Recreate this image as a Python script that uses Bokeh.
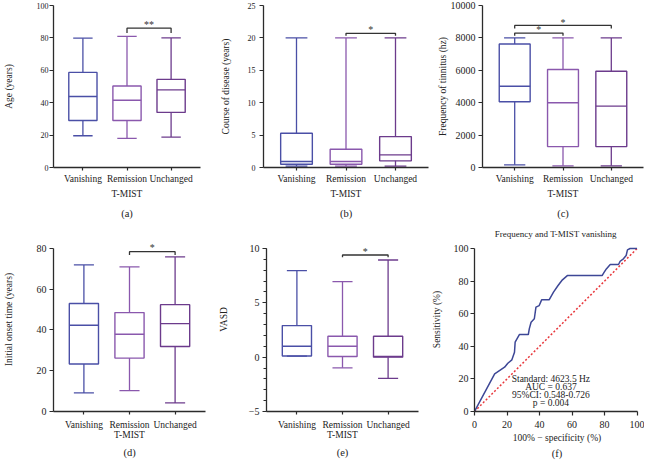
import numpy as np
from bokeh.plotting import figure
from bokeh.layouts import row, column
from bokeh.models import Range1d, FixedTicker, SingleIntervalTicker, Label, Title
from bokeh.embed import file_html
from bokeh.resources import INLINE

FONT = "Liberation Serif"
TXT = "#222222"
AX = "#2b2b2b"

categories = ["Vanishing", "Remission", "Unchanged"]
box_colors = ["#4a4fa6", "#8a58ad", "#6c3b8c"]

# (a) Age (years)
age_min = [19.6, 18.0, 18.8]
age_q1 = [29.0, 29.0, 34.0]
age_med = [43.8, 41.5, 47.9]
age_q3 = [58.7, 50.3, 54.4]
age_max = [79.8, 81.0, 80.0]

# (b) Course of disease (years)
course_min = [0.2, 0.2, 0.2]
course_q1 = [0.51, 0.51, 1.03]
course_med = [0.92, 0.92, 1.95]
course_q3 = [5.28, 2.82, 4.77]
course_max = [20.0, 20.0, 20.0]

# (c) Frequency of tinnitus (hz)
freq_min = [164, 102, 102]
freq_q1 = [4057, 1291, 1291]
freq_med = [5020, 3996, 3791]
freq_q3 = [7623, 6045, 5943]
freq_max = [8000, 8000, 8000]

# (d) Initial onset time (years)
onset_min = [9.1, 10.2, 4.2]
onset_q1 = [23.3, 26.2, 31.9]
onset_med = [42.3, 37.9, 43.1]
onset_q3 = [53.0, 48.5, 52.4]
onset_max = [71.9, 70.9, 75.8]

# (e) VASD
vasd_min = [0.1, -0.98, -1.95]
vasd_q1 = [0.1, 0.06, 0.0]
vasd_med = [1.0, 1.0, 0.06]
vasd_q3 = [2.9, 1.92, 1.92]
vasd_max = [7.96, 6.95, 8.93]

# significance brackets: (group i, group j, bracket height, drop, star height, stars)
a_brackets = [(1, 2, 86.0, 3.0, 88.2, "**")]
b_brackets = [(1, 2, 20.7, 0.35, 21.3, "*")]
c_brackets = [(0, 2, 8773, 200, 8980, "*"), (0, 1, 8300, 160, 8510, "*")]
d_brackets = [(1, 2, 78.4, 1.7, 80.3, "*")]
e_brackets = [(1, 2, 9.39, 0.2, 9.75, "*")]

# (f) ROC curve
roc_fpr = [0, 12.4, 18.5, 20.5, 23.0, 24.6, 25.0, 27.6, 33.1, 33.7, 34.8, 36.8, 37.8,
           39.8, 41.3, 45.9, 48.6, 51.4, 54.1, 57.1, 78.5, 79.5, 81.1, 83.5, 88.6,
           89.6, 91.6, 93.3, 94.1, 95.7, 100]
roc_tpr = [0, 23.1, 27.2, 29.6, 31.7, 36.4, 42.5, 47.2, 47.2, 50.7, 54.8, 56.9, 64.0,
           65.0, 68.5, 68.5, 73.2, 77.3, 80.8, 83.4, 83.4, 85.0, 87.5, 90.2, 90.2,
           92.2, 93.7, 95.7, 99.2, 100, 100]
roc_title = "Frequency and T-MIST vanishing"
roc_text = ["Standard: 4623.5 Hz", "AUC = 0.637", "95%CI: 0.548-0.726", "p = 0.004"]

ROW1_H = 224
ROW2_H = 239


def base_style(p, ytick_size, xtick_size):
    p.outline_line_color = None
    p.xgrid.visible = False
    p.ygrid.visible = False
    p.background_fill_color = "white"
    p.border_fill_color = "white"
    for ax in p.axis:
        ax.axis_line_color = AX
        ax.axis_line_width = 1.3
        ax.major_tick_line_color = AX
        ax.major_tick_line_width = 1.2
        ax.major_tick_in = 0
        ax.minor_tick_in = 0
        ax.major_label_text_font = FONT
        ax.major_label_text_color = TXT
        ax.axis_label_text_font = FONT
        ax.axis_label_text_color = TXT
        ax.axis_label_text_font_style = "normal"
        ax.axis_label_text_font_size = "9.5px"
    p.yaxis.major_label_text_font_size = ytick_size
    p.xaxis.major_label_text_font_size = xtick_size


def box_panel(w, h, borders, yr, ybounds, ytick, ylabel, vals, brackets, tag,
              ytick_size, y_tick_standoff, y_lab_standoff,
              x_tick_standoff, x_lab_standoff, tag_standoff,
              minor=0, overrides=None):
    mins, q1s, meds, q3s, maxs = vals
    pos = list(range(1, len(categories) + 1))
    p = figure(width=w, height=h, x_range=Range1d(1 / 3, len(categories) + 2 / 3),
               y_range=Range1d(*yr), output_backend="svg", toolbar_location=None,
               min_border_left=borders[0], min_border_right=borders[1],
               min_border_top=borders[2], min_border_bottom=borders[3])
    base_style(p, ytick_size, "9.5px")
    bw, cw = 0.64, 0.44
    pos_a = np.array(pos, dtype=float)
    p.vbar(x=pos, bottom=q1s, top=q3s, width=bw, fill_color=None,
           line_color=box_colors, line_width=1.4)
    p.segment(x0=pos_a - bw / 2, x1=pos_a + bw / 2, y0=meds, y1=meds,
              line_color=box_colors, line_width=1.4)
    p.segment(x0=pos, x1=pos, y0=q3s, y1=maxs, line_color=box_colors, line_width=1.3)
    p.segment(x0=pos, x1=pos, y0=mins, y1=q1s, line_color=box_colors, line_width=1.3)
    p.segment(x0=pos_a - cw / 2, x1=pos_a + cw / 2, y0=maxs, y1=maxs,
              line_color=box_colors, line_width=1.3)
    p.segment(x0=pos_a - cw / 2, x1=pos_a + cw / 2, y0=mins, y1=mins,
              line_color=box_colors, line_width=1.3)
    for (i, j, hgt, drop, sy, stars) in brackets:
        p.line(x=[pos[i], pos[i], pos[j], pos[j]], y=[hgt - drop, hgt, hgt, hgt - drop],
               line_color="#333333", line_width=1.3)
        p.add_layout(Label(x=(pos[i] + pos[j]) / 2, y=sy, text=stars, text_font=FONT,
                           text_font_size="10px", text_color="#333333",
                           text_align="center", text_baseline="middle"))
    # axes
    p.xaxis.ticker = FixedTicker(ticks=pos)
    p.xaxis.major_label_overrides = {k: c for k, c in zip(pos, categories)}
    p.xaxis.major_tick_out = 3
    p.xaxis.major_label_standoff = x_tick_standoff
    p.xaxis.axis_label = "T-MIST"
    p.xaxis.axis_label_standoff = x_lab_standoff
    p.yaxis.ticker = SingleIntervalTicker(interval=ytick, num_minor_ticks=minor)
    p.yaxis.bounds = ybounds
    if minor:
        p.yaxis.minor_tick_out = 3
        p.yaxis.minor_tick_line_color = AX
        p.yaxis.minor_tick_line_width = 1.0
    else:
        p.yaxis.minor_tick_line_color = None
    p.yaxis.major_tick_out = 4
    p.yaxis.major_label_standoff = y_tick_standoff
    p.yaxis.axis_label = ylabel
    p.yaxis.axis_label_standoff = y_lab_standoff
    if overrides:
        p.yaxis.major_label_overrides = overrides
    p.add_layout(Title(text=tag, align="center", text_font=FONT, text_font_size="10.5px",
                       text_font_style="normal", text_color=TXT, standoff=tag_standoff),
                 "below")
    return p


pa = box_panel(217, ROW1_H, (40, 17, 5, 56), (0, 100), (0, 100), 20, "Age (years)",
               (age_min, age_q1, age_med, age_q3, age_max), a_brackets, "(a)",
               "8px", 1, 20, 3, 2, 8)
pb = box_panel(217, ROW1_H, (40, 6, 4, 57), (0, 25), (0, 25), 5, "Course of disease (years)",
               (course_min, course_q1, course_med, course_q3, course_max), b_brackets, "(b)",
               "8px", 4, 14, 3, 2, 8)
pc = box_panel(211, ROW1_H, (45, 2, 4, 57), (0, 10000), (0, 10000), 2000,
               "Frequency of tinnitus (hz)",
               (freq_min, freq_q1, freq_med, freq_q3, freq_max), c_brackets, "(c)",
               "10px", 3, 0, 3, 2, 8)
pd = box_panel(215, ROW2_H, (40, 10, 3, 51), (0, 90.24), (0, 80), 20,
               "Initial onset time (years)",
               (onset_min, onset_q1, onset_med, onset_q3, onset_max), d_brackets, "(d)",
               "10px", 3, 20, 5, -3, 4)
pe = box_panel(213, ROW2_H, (40, 10, 3, 51), (-5, 11.92), (-5, 10), 5, "VASD",
               (vasd_min, vasd_q1, vasd_med, vasd_q3, vasd_max), e_brackets, "(e)",
               "10px", 3, 17, 5, -3, 4, minor=5, overrides={-5: "\u22125"})

# (f) ROC
pf = figure(width=216, height=ROW2_H, x_range=Range1d(0, 101.5), y_range=Range1d(0, 112.9),
            output_backend="svg", toolbar_location=None,
            min_border_left=45, min_border_right=5, min_border_top=3, min_border_bottom=52)
base_style(pf, "10px", "10px")
pf.line(x=[0, 100], y=[0, 100], line_color="#e8383d", line_width=1.5, line_dash="2 2")
pf.line(x=roc_fpr, y=roc_tpr, line_color="#3d4796", line_width=1.5)
for k, t in enumerate(roc_text):
    pf.add_layout(Label(x=47, y=20 - 5 * k, text=t, text_font=FONT, text_font_size="9.5px",
                        text_color=TXT, text_align="center", text_baseline="middle"))
pf.add_layout(Label(x=50, y=109.2, text=roc_title, text_font=FONT, text_font_size="9px",
                    text_color=TXT, text_align="center", text_baseline="middle"))
for ax in pf.axis:
    ax.ticker = SingleIntervalTicker(interval=20, num_minor_ticks=0)
    ax.minor_tick_line_color = None
    ax.major_tick_out = 4
    ax.bounds = (0, 100)
pf.yaxis.major_label_standoff = 2
pf.yaxis.axis_label = "Sensitivity (%)"
pf.yaxis.axis_label_standoff = 9
pf.xaxis.major_label_standoff = 5
pf.xaxis.axis_label = "100% \u2212 specificity (%)"
pf.xaxis.axis_label_standoff = 2
pf.add_layout(Title(text="(f)", align="center", text_font=FONT, text_font_size="10.5px",
                    text_font_style="normal", text_color=TXT, standoff=0), "below")

layout = column(row(pa, pb, pc), row(pd, pe, pf))

open("out.html", "w").write(file_html(layout, INLINE))
